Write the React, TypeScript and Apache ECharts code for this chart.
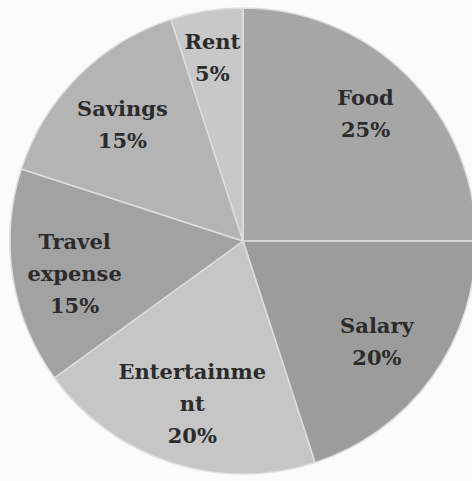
import React, { useEffect, useRef } from "react";
import * as echarts from "echarts";

const categories = ["Food", "Salary", "Entertainment", "Travel expense", "Savings", "Rent"];
const values = [25, 20, 20, 15, 15, 5];
const displayLabels = ["Food", "Salary", "Entertainme\nnt", "Travel\nexpense", "Savings", "Rent"];
const sliceColors = ["#a6a6a6", "#9c9c9c", "#c6c6c6", "#a2a2a2", "#b4b4b4", "#c8c8c8"];
const labelNudges = [[2, -7], [-4, 0], [2, 0], [0, 6], [0, 4], [-4, -15]];

export default function App() {
  const ref = useRef<HTMLDivElement>(null);
  useEffect(() => {
    document.body.style.margin = "0";
    const chart = echarts.init(ref.current!, null, { renderer: "svg" });
    const pieData = categories.map((name, i) => ({
      name,
      value: values[i],
      itemStyle: { color: sliceColors[i] },
    }));
    const labelData = categories.map((name, i) => ({
      name,
      value: values[i],
      label: { formatter: displayLabels[i] + "\n" + values[i] + "%", offset: labelNudges[i] },
    }));
    chart.setOption({
      animation: false,
      backgroundColor: "#fbfbfb",
      series: [
        {
          type: "pie",
          center: [243, 241],
          radius: 233,
          startAngle: 90,
          clockwise: true,
          silent: true,
          label: { show: false },
          labelLine: { show: false },
          itemStyle: { borderColor: "#dedede", borderWidth: 1.5 },
          data: pieData,
        },
        {
          type: "pie",
          center: [243, 241],
          radius: [102, 233],
          startAngle: 90,
          clockwise: true,
          silent: true,
          itemStyle: { color: "rgba(0,0,0,0)", borderWidth: 0 },
          label: {
            show: true,
            position: "inside",
            color: "#2b2b2b",
            fontFamily: "DejaVu Serif",
            fontWeight: "bold",
            fontSize: 21,
            lineHeight: 32,
            align: "center",
          },
          labelLine: { show: false },
          data: labelData,
        },
      ],
    });
    return () => chart.dispose();
  }, []);
  return <div ref={ref} style={{ width: 472, height: 481, position: "absolute", left: 0, top: 0 }} />;
}
